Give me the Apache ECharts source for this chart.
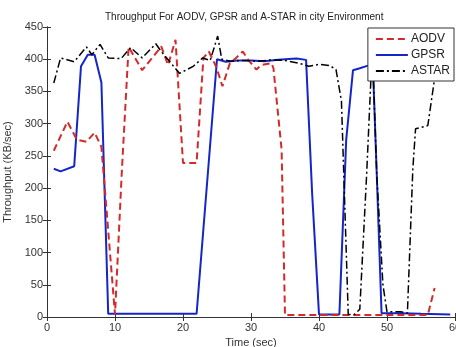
<!DOCTYPE html>
<html>
<head>
<meta charset="utf-8">
<script src="https://cdn.jsdelivr.net/npm/echarts@6/dist/echarts.min.js"></script>
<style>html,body{margin:0;padding:0;background:#fff;}#c{width:456px;height:347px;}</style>
</head>
<body>
<div id="c"></div>
<script>
var titleText = 'Throughput For AODV, GPSR and A-STAR in city Environment';
var xName = 'Time (sec)';
var yName = 'Throughput (KB/sec)';
var seriesNames = ['AODV', 'GPSR', 'ASTAR'];

var aodvData = [[1,258],[3,303],[4.4,275],[5.8,272],[7,286],[8,264],[10,4],[11,225],[12,419],[14,383],[16,409],[16.8,420],[17.8,391],[18.9,430],[20,239],[22,239],[23,402],[23.8,412],[24.9,388],[25.8,358],[26.9,394],[27.8,402],[28.8,412],[29.6,399],[30.8,384],[31.5,391],[33,394],[33.3,386],[34.5,260],[35,3],[40,3],[45,3],[50,3],[56,3],[57,45]];
var gpsrData = [[1,230],[2,226],[4,234],[5,389],[6,407],[7,407],[8,364],[9,5],[15,5],[22,5],[25,400],[26.3,396],[28,398],[30,398],[32,397],[34,399],[35,400],[36.7,401],[38.1,399],[39,190],[40,4],[43,4],[44,275],[45,383],[46,386],[47.2,390],[47.7,391],[48,368],[48.5,220],[49.2,6],[52,6],[55,5],[59.3,4]];
var astarData = [[1,363],[2,402],[4,396],[5.8,419],[6.6,407],[7.8,423],[9,402],[10.9,401],[12.3,418],[14,402],[16,424],[16.8,412],[19.5,378],[21.5,389],[22.9,402],[24,398],[25.1,436],[25.7,400],[27,397],[29,398],[31,397],[33,399],[35,398],[37,394],[38.5,389],[40,392],[41.6,390],[42.5,384],[43.3,335],[44.3,4],[45.2,4],[46,12],[47,220],[47.7,385],[48,370],[48.5,220],[49.4,50],[50,8],[52,8],[53,6],[53.8,230],[54.2,292],[56,297],[57,370],[58,398],[59.5,402]];

var chart = echarts.init(document.getElementById('c'), null, {renderer: 'canvas'});
var font = 'Liberation Sans, Arial, sans-serif';
var axisCommon = {
  axisLine: {show: true, lineStyle: {color: '#333', width: 1}},
  axisTick: {show: true, inside: true, length: 4, lineStyle: {color: '#333'}},
  splitLine: {show: false}
};
chart.setOption({
  animation: false,
  backgroundColor: '#fff',
  title: {
    text: titleText, left: 100, top: 7,
    textStyle: {fontFamily: font, fontSize: 10, fontWeight: 'normal', color: '#222'}
  },
  legend: {
    data: seriesNames,
    right: 2, top: 28, orient: 'vertical', z: 20,
    itemWidth: 32, itemHeight: 10, itemGap: 4,
    padding: [5, 4, 4, 7],
    itemStyle: {opacity: 0},
    borderColor: '#333', borderWidth: 1, backgroundColor: '#fff',
    textStyle: {fontFamily: font, fontSize: 12, color: '#222', padding: [0, 0, 0, -2]}
  },
  grid: {left: 47, right: 1, top: 27, bottom: 30, containLabel: false, outerBoundsMode: 'none'},
  xAxis: [
    Object.assign({type: 'value', min: 0, max: 60, interval: 10, position: 'bottom',
      name: xName, nameLocation: 'middle', nameGap: 18,
      nameTextStyle: {fontFamily: font, fontSize: 11, color: '#333'},
      axisLabel: {fontFamily: font, fontSize: 11, color: '#333', margin: 5}}, axisCommon),
    Object.assign({type: 'value', min: 0, max: 60, interval: 10, position: 'top',
      axisLabel: {show: false}}, axisCommon)
  ],
  yAxis: [
    Object.assign({type: 'value', min: 0, max: 450, interval: 50, position: 'left',
      name: yName, nameLocation: 'middle', nameGap: 28,
      nameTextStyle: {fontFamily: font, fontSize: 11, color: '#333'},
      axisLabel: {fontFamily: font, fontSize: 11, color: '#333', margin: 4}}, axisCommon),
    Object.assign({type: 'value', min: 0, max: 450, interval: 50, position: 'right',
      axisLabel: {show: false}}, axisCommon)
  ],
  series: [
    {name: seriesNames[0], type: 'line', data: aodvData, showSymbol: false, symbol: 'none',
      lineStyle: {color: '#d42a2a', width: 2, type: [7, 4]}, itemStyle: {color: '#d42a2a'}, z: 3},
    {name: seriesNames[1], type: 'line', data: gpsrData, showSymbol: false, symbol: 'none',
      lineStyle: {color: '#1426c8', width: 2, type: 'solid'}, itemStyle: {color: '#1426c8'}, z: 2},
    {name: seriesNames[2], type: 'line', data: astarData, showSymbol: false, symbol: 'none',
      lineStyle: {color: '#000', width: 1.5, type: [8, 3, 2, 3]}, itemStyle: {color: '#000'}, z: 4}
  ]
});
</script>
</body>
</html>
